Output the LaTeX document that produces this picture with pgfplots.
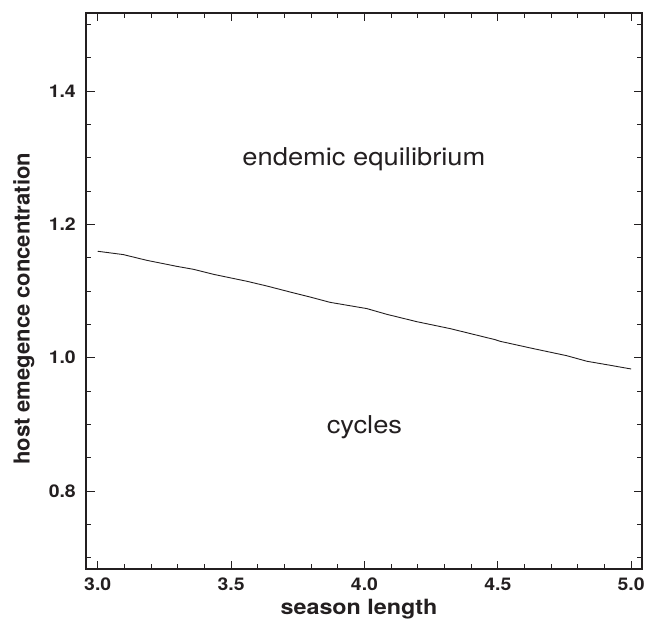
\documentclass[border=0pt]{standalone}
\usepackage{fontspec}
\setmainfont{TeX Gyre Heros}[FakeStretch=1.11]
\newfontfamily\heros{TeX Gyre Heros}
\usepackage{pgfplots}
\pgfplotsset{compat=1.18}
\usetikzlibrary{calc}
\definecolor{ink}{RGB}{35,31,32}
\begin{document}
\begin{tikzpicture}
\begin{axis}[
  name=ax,
  scale only axis,
  width=556pt, height=556pt,
  xmin=2.956, xmax=5.0406,
  ymin=0.683, ymax=1.517,
  xtick={3.0,3.5,4.0,4.5,5.0},
  minor xtick={3.1,3.2,3.3,3.4,3.6,3.7,3.8,3.9,4.1,4.2,4.3,4.4,4.6,4.7,4.8,4.9},
  ytick={0.8,1.0,1.2,1.4},
  minor ytick={0.7,0.75,0.85,0.9,0.95,1.05,1.1,1.15,1.25,1.3,1.35,1.45,1.5},
  tick align=inside,
  major tick length=8.5pt,
  minor tick length=5pt,
  every tick/.style={ink, line width=0.9pt},
  axis line style={ink, line width=1.2pt},
  xticklabel style={/pgf/number format/fixed,/pgf/number format/precision=1,/pgf/number format/fixed zerofill, font=\fontsize{17.5}{20}\selectfont\bfseries, text=ink, inner sep=0pt, yshift=-9pt},
  yticklabel style={/pgf/number format/fixed,/pgf/number format/precision=1,/pgf/number format/fixed zerofill, font=\fontsize{17.5}{20}\selectfont\bfseries, text=ink, inner sep=0pt, xshift=-10pt},
  /pgf/number format/assume math mode=true,
  xlabel={season length},
  ylabel={host emegence concentration},
  xlabel style={font=\fontsize{21}{24}\selectfont\bfseries, text=ink, inner sep=0pt, at={(rel axis cs:0.5,0)}, anchor=base, yshift=-45pt, xshift=-5pt},
  ylabel style={font=\heros\fontsize{22}{24}\selectfont\bfseries, text=ink, inner sep=0pt, at={(rel axis cs:0,0.468)}, anchor=north, yshift=73pt},
]
\addplot[ink, line width=0.9pt] coordinates {
(3.000,1.1596) (3.096,1.1546) (3.184,1.1460) (3.296,1.1370) (3.358,1.1326)
(3.434,1.1250) (3.559,1.1146) (3.634,1.1075) (3.721,1.0985) (3.796,1.0910)
(3.871,1.0830) (4.009,1.0736) (4.084,1.0650) (4.196,1.0540) (4.321,1.0436)
(4.490,1.0270) (4.508,1.0246) (4.633,1.0136) (4.758,1.0030) (4.834,0.9946)
(4.921,0.9886) (5.000,0.9830)
};
\node[text=ink, anchor=base, inner sep=0pt] at (axis cs:3.998,1.2886) {\fontsize{24.6}{28}\selectfont endemic equilibrium};
\node[text=ink, anchor=base, inner sep=0pt] at (axis cs:4.0,0.887) {\fontsize{24.6}{28}\selectfont cycles};
\end{axis}
\pgfresetboundingbox
\path ($(ax.south west)+(-86pt,-56pt)$) rectangle ($(ax.north east)+(4pt,13pt)$);
\end{tikzpicture}
\end{document}
